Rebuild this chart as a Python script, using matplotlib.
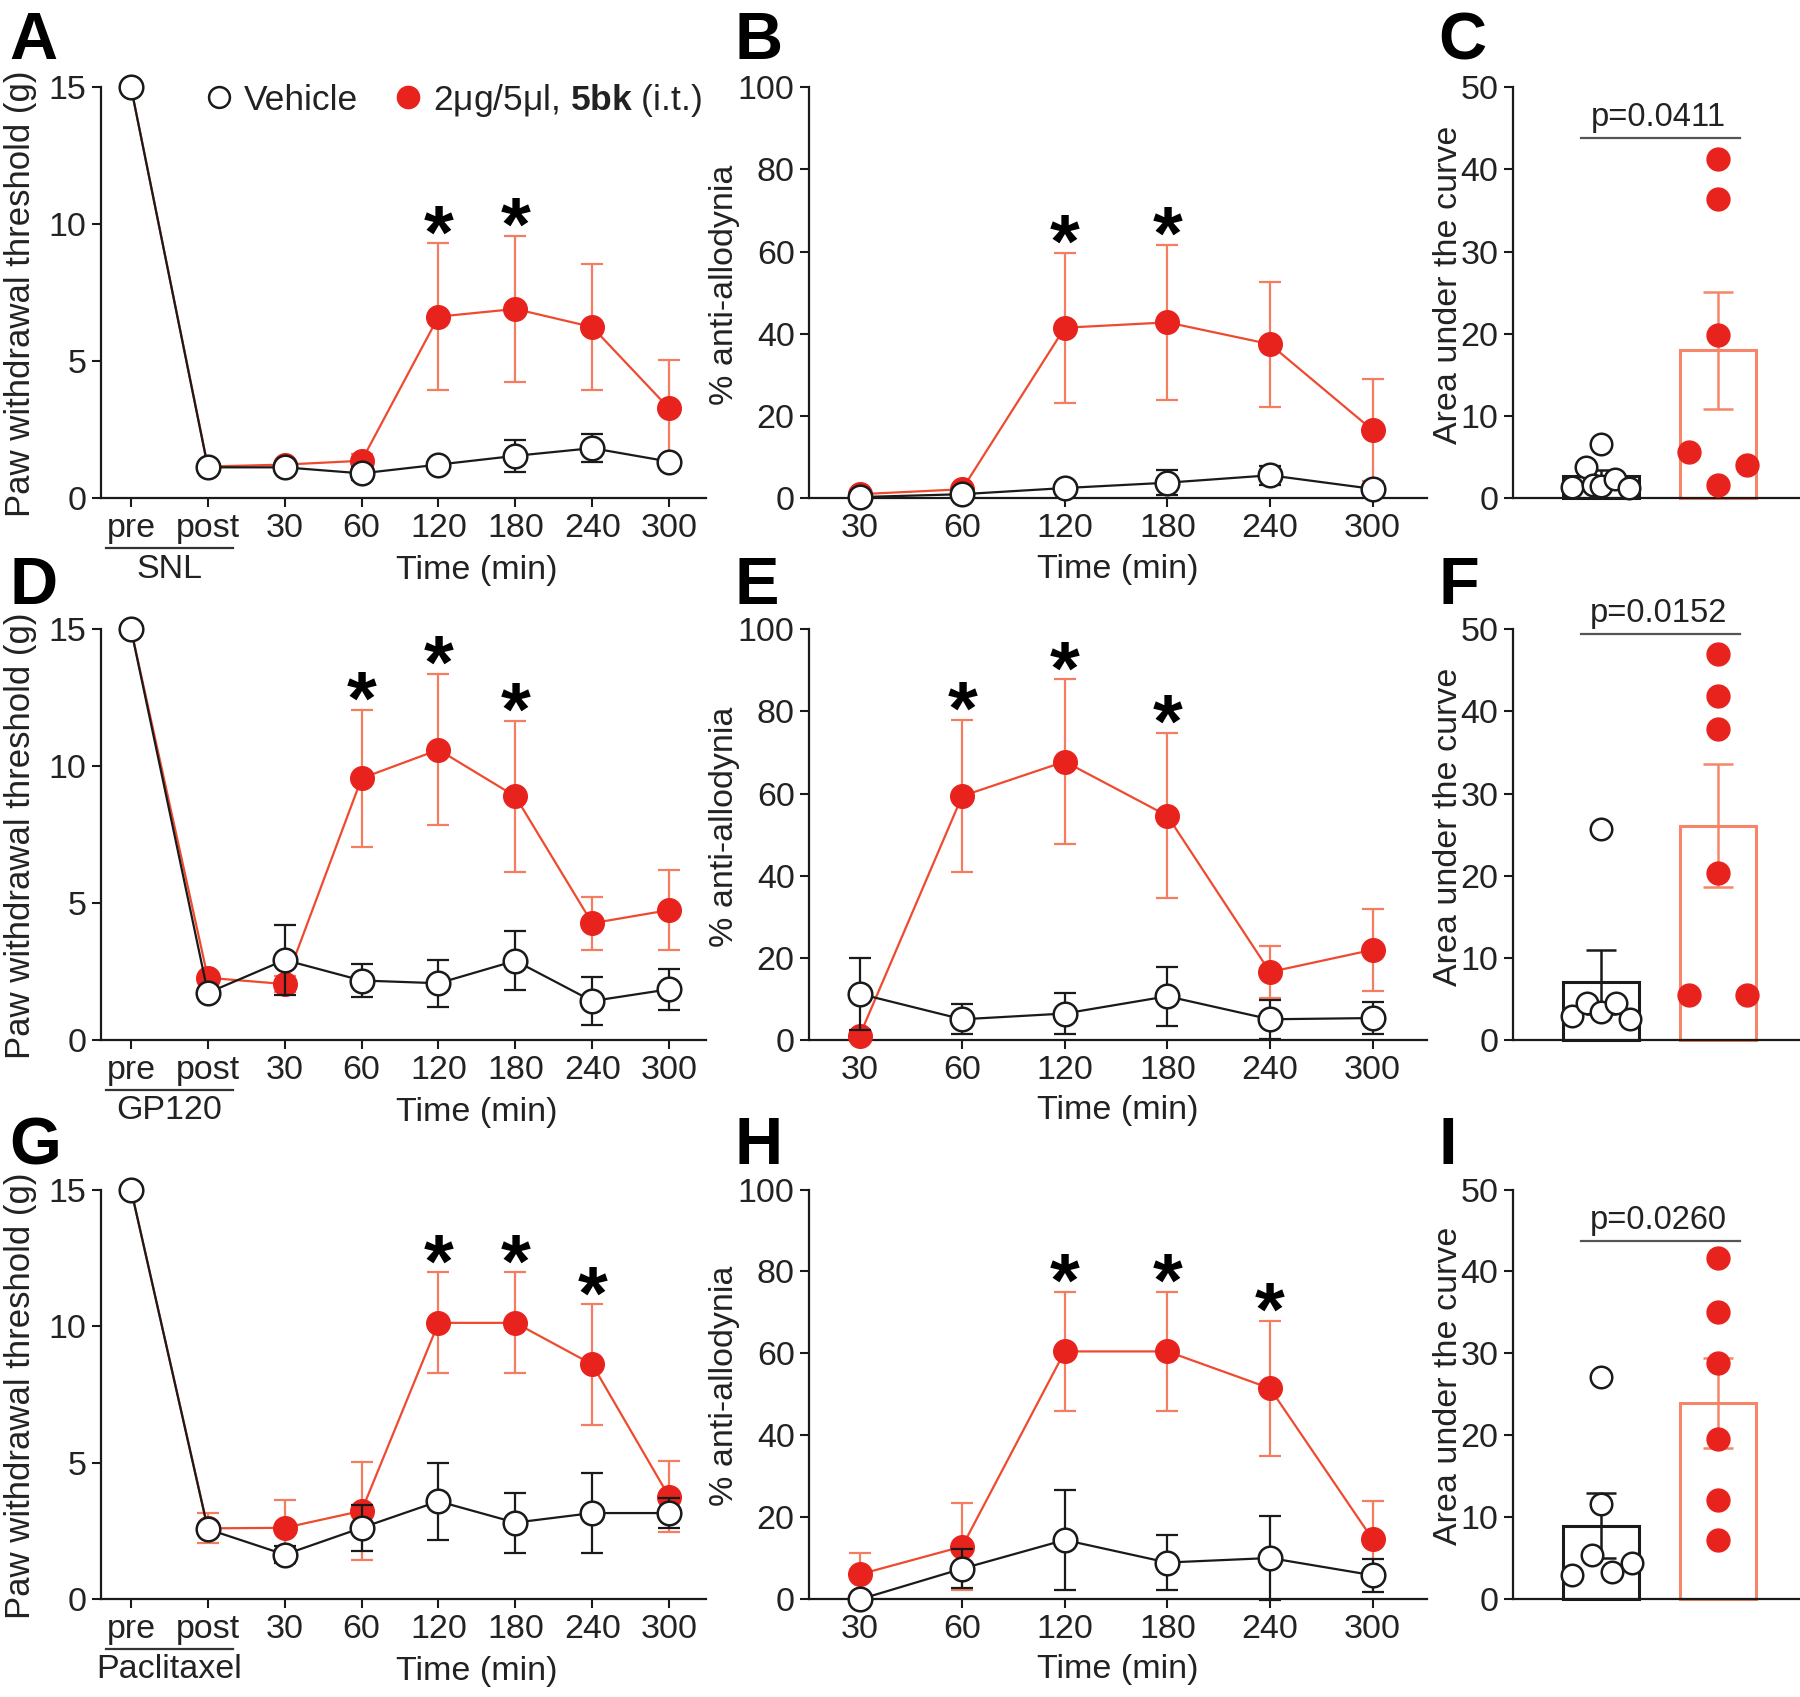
import matplotlib
matplotlib.use('Agg')
import matplotlib.pyplot as plt
from matplotlib.lines import Line2D

plt.rcParams['font.family'] = ['Liberation Sans', 'DejaVu Sans']
plt.rcParams['mathtext.fontset'] = 'custom'
plt.rcParams['mathtext.bf'] = 'Liberation Sans:bold'
plt.rcParams['mathtext.rm'] = 'Liberation Sans'

# ---------------- data ----------------
pwt_labels = ['pre', 'post', '30', '60', '120', '180', '240', '300']
aa_labels = ['30', '60', '120', '180', '240', '300']
models = ['SNL', 'GP120', 'Paclitaxel']

# Paw withdrawal threshold (g): vehicle / 5bk, mean and SEM
snl_veh = [15, 1.13, 1.13, 0.91, 1.23, 1.55, 1.83, 1.34]
snl_veh_err = [0, 0.05, 0.08, 0.25, 0.10, 0.58, 0.50, 0.10]
snl_trt = [15, 1.16, 1.23, 1.37, 6.63, 6.91, 6.25, 3.28]
snl_trt_err = [0, 0.05, 0.08, 0.25, 2.67, 2.68, 2.30, 1.76]
snl_stars = ['120', '180']

gp_veh = [15, 1.73, 2.93, 2.18, 2.08, 2.90, 1.43, 1.86]
gp_veh_err = [0, 0.10, 1.27, 0.60, 0.86, 1.08, 0.88, 0.75]
gp_trt = [15, 2.28, 2.05, 9.56, 10.60, 8.90, 4.27, 4.75]
gp_trt_err = [0, 0.10, 0.30, 2.50, 2.76, 2.75, 0.97, 1.47]
gp_stars = ['60', '120', '180']

pac_veh = [15, 2.57, 1.64, 2.62, 3.59, 2.81, 3.16, 3.16]
pac_veh_err = [0, 0.10, 0.30, 0.85, 1.40, 1.10, 1.45, 0.55]
pac_trt = [15, 2.60, 2.62, 3.24, 10.12, 10.12, 8.60, 3.76]
pac_trt_err = [0, 0.55, 1.00, 1.80, 1.85, 1.85, 2.20, 1.30]
pac_stars = ['120', '180', '240']

# % anti-allodynia
snl_aa_veh = [0.3, 1.0, 2.5, 3.8, 5.6, 2.3]
snl_aa_veh_err = [0.5, 0.8, 1.0, 3.0, 2.3, 0.8]
snl_aa_trt = [1.0, 2.2, 41.5, 42.8, 37.5, 16.6]
snl_aa_trt_err = [0.5, 0.8, 18.2, 18.8, 15.2, 12.5]
snl_aa_stars = ['120', '180']

gp_aa_veh = [11.3, 5.1, 6.5, 10.7, 5.1, 5.4]
gp_aa_veh_err = [8.8, 3.7, 5.0, 7.2, 4.8, 4.0]
gp_aa_trt = [1.1, 59.4, 67.8, 54.6, 16.6, 22.0]
gp_aa_trt_err = [1.0, 18.5, 20.0, 20.1, 6.4, 9.9]
gp_aa_stars = ['60', '120', '180']

pac_aa_veh = [0.0, 7.5, 14.5, 9.0, 10.1, 5.9]
pac_aa_veh_err = [0.0, 4.7, 12.2, 6.8, 10.3, 4.0]
pac_aa_trt = [6.1, 12.9, 60.5, 60.5, 51.5, 14.7]
pac_aa_trt_err = [5.2, 10.5, 14.5, 14.5, 16.4, 9.2]
pac_aa_stars = ['120', '180', '240']

# Area under the curve: individual animals, bar mean and SEM
snl_auc_veh = [6.6, 3.8, 1.4, 1.6, 1.5, 2.3, 1.3]
snl_auc_trt = [41.3, 36.4, 19.9, 5.6, 4.1, 1.65]
snl_auc_mean = [2.7, 18.0]
snl_auc_sem = [0.7, 7.1]
snl_p = 'p=0.0411'

gp_auc_veh = [25.7, 2.9, 4.5, 3.4, 4.5, 2.6]
gp_auc_trt = [47.0, 41.9, 37.9, 20.3, 5.5, 5.5]
gp_auc_mean = [7.1, 26.1]
gp_auc_sem = [3.9, 7.5]
gp_p = 'p=0.0152'

pac_auc_veh = [27.1, 11.6, 5.45, 3.0, 3.4, 4.5]
pac_auc_trt = [41.7, 35.1, 28.8, 19.6, 12.1, 7.3]
pac_auc_mean = [9.0, 24.0]
pac_auc_sem = [4.0, 5.5]
pac_p = 'p=0.0260'

# horizontal jitter of the dots (layout only)
snl_jit_veh = [0, -0.13, -0.25, -0.07, 0.0, 0.12, 0.24]
snl_jit_trt = [0, 0, 0, -0.25, 0.25, 0]
gp_jit_veh = [0, -0.25, -0.12, 0, 0.13, 0.25]
gp_jit_trt = [0, 0, 0, 0, -0.25, 0.25]
pac_jit_veh = [0, 0, -0.08, -0.25, 0.09, 0.26]
pac_jit_trt = [0, 0, 0, 0, 0, 0]

# ---------------- styles ----------------
RED_M = '#E8231E'
RED_L = '#EF4A2F'
RED_E = '#F47C5F'
RED_B = '#F5866A'
BLK = '#1a1a1a'
TXT = '#222222'
TICK_FS = 24.5
LAB_FS = 24.5

fig = plt.figure(figsize=(18, 16.97), dpi=100)

W, H = 1568.0, 1478.0
rows = [(76, 434), (548, 906), (1036, 1393)]
cols = [(88, 615), (705, 1243), (1318, 1568)]


def rect(c, r):
    (x0, x1), (y0, y1) = cols[c], rows[r]
    return [x0 / W, 1 - y1 / H, (x1 - x0) / W, (y1 - y0) / H]


def style(ax):
    for s in ['top', 'right']:
        ax.spines[s].set_visible(False)
    for s in ['left', 'bottom']:
        ax.spines[s].set_linewidth(1.6)
        ax.spines[s].set_color(BLK)
    ax.tick_params(direction='out', length=6.5, width=1.5, colors=BLK,
                   labelsize=TICK_FS, labelcolor=TXT, pad=4)


def stars_at(ax, labels, xs, ys, errs, star_list):
    for lab in star_list:
        i = labels.index(lab)
        ax.annotate('*', xy=(xs[i], ys[i] + errs[i]), xytext=(0, -10),
                    textcoords='offset points', ha='center', va='baseline',
                    fontsize=55, fontweight='bold', color='black',
                    annotation_clip=False)


def line_panel(ax, labels, veh, veh_err, trt, trt_err, star_list, ymax, yticks):
    xs = list(range(len(labels)))
    ax.errorbar(xs, trt, yerr=trt_err, fmt='none', ecolor=RED_E, elinewidth=1.6,
                capsize=8, capthick=1.6, clip_on=False, zorder=2)
    ax.plot(xs, trt, '-', color=RED_L, lw=1.6, clip_on=False, zorder=3)
    ax.plot(xs, trt, 'o', ms=17, mfc=RED_M, mec=RED_M, clip_on=False, zorder=4)
    ax.errorbar(xs, veh, yerr=veh_err, fmt='none', ecolor=BLK, elinewidth=1.6,
                capsize=8, capthick=1.6, clip_on=False, zorder=5)
    ax.plot(xs, veh, '-', color=BLK, lw=1.6, clip_on=False, zorder=6)
    ax.plot(xs, veh, 'o', ms=17, mfc='white', mec=BLK, mew=1.8, clip_on=False, zorder=7)
    ax.set_ylim(0, ymax)
    ax.set_yticks(yticks)
    ax.set_xticks(xs)
    ax.set_xticklabels(labels)
    stars_at(ax, labels, xs, trt, trt_err, star_list)
    style(ax)


def pwt_panel(ax, veh, veh_err, trt, trt_err, star_list, model):
    line_panel(ax, pwt_labels, veh, veh_err, trt, trt_err, star_list, 15, [0, 5, 10, 15])
    ax.set_xlim(-0.39, 7.48)
    ax.set_ylabel('Paw withdrawal threshold (g)', fontsize=25, color=TXT)
    ax.yaxis.label.set_va('center')
    ax.yaxis.set_label_coords(-0.133, 0.497)
    tr = ax.get_xaxis_transform()
    ax.plot([-0.33, 1.33], [-0.12, -0.12], transform=tr, color='#333333', lw=1.6,
            clip_on=False)
    ax.text(0.5, -0.172, model, transform=tr, ha='center', va='center',
            fontsize=LAB_FS, color=TXT)
    ax.text(4.5, -0.175, 'Time (min)', transform=tr, ha='center', va='center',
            fontsize=LAB_FS, color=TXT)


def aa_panel(ax, veh, veh_err, trt, trt_err, star_list):
    line_panel(ax, aa_labels, veh, veh_err, trt, trt_err, star_list, 100,
               [0, 20, 40, 60, 80, 100])
    ax.set_xlim(-0.49, 5.53)
    ax.set_ylabel('% anti-allodynia', fontsize=LAB_FS, color=TXT)
    ax.yaxis.label.set_va('center')
    ax.yaxis.set_label_coords(-0.138, 0.52)
    ax.set_xlabel('Time (min)', fontsize=LAB_FS, color=TXT)
    ax.xaxis.label.set_va('center')
    ax.xaxis.set_label_coords(0.5, -0.172)


def auc_panel(ax, veh, trt, jv, jt, means, sems, ptxt, pline):
    ax.bar([0, 1], means, width=0.65, fill=False, edgecolor=[BLK, RED_B],
           linewidth=2.2, zorder=2, clip_on=False)
    ax.errorbar([0], [means[0]], yerr=[sems[0]], fmt='none', ecolor=BLK,
                elinewidth=1.8, capsize=11, capthick=1.8, zorder=3)
    ax.errorbar([1], [means[1]], yerr=[sems[1]], fmt='none', ecolor=RED_B,
                elinewidth=1.8, capsize=11, capthick=1.8, zorder=3)
    ax.plot([j for j in jv], veh, 'o', ms=15.5, mfc='white', mec=BLK, mew=1.8,
            ls='none', zorder=4, clip_on=False)
    ax.plot([1 + j for j in jt], trt, 'o', ms=16.5, mfc=RED_M, mec=RED_M,
            ls='none', zorder=4, clip_on=False)
    ax.plot([-0.17, 1.19], [pline, pline], color='#555555', lw=1.6, clip_on=False)
    ax.text(0.49, pline + 0.6, ptxt, ha='center', va='bottom', fontsize=23.5, color=TXT)
    ax.set_xlim(-0.755, 1.70)
    ax.set_ylim(0, 50)
    ax.set_yticks([0, 10, 20, 30, 40, 50])
    ax.set_xticks([])
    ax.set_ylabel('Area under the curve', fontsize=LAB_FS, color=TXT)
    ax.yaxis.label.set_va('center')
    ax.yaxis.set_label_coords(-0.225, 0.52)
    style(ax)
    ax.tick_params(axis='x', length=0)


axA = fig.add_axes(rect(0, 0))
pwt_panel(axA, snl_veh, snl_veh_err, snl_trt, snl_trt_err, snl_stars, models[0])
handles = [Line2D([], [], marker='o', ls='none', ms=15, mfc='white', mec=BLK, mew=1.8),
           Line2D([], [], marker='o', ls='none', ms=16, mfc=RED_M, mec=RED_M)]
axA.legend(handles, ['Vehicle', r'2μg/5μl, $\mathbf{5bk}$ (i.t.)'], ncol=2,
           frameon=False, fontsize=25.5, loc='center right',
           bbox_to_anchor=(1.016, 0.969), borderaxespad=0, handletextpad=0.2,
           columnspacing=0.9, handlelength=1.0, labelcolor=TXT)

axB = fig.add_axes(rect(1, 0))
aa_panel(axB, snl_aa_veh, snl_aa_veh_err, snl_aa_trt, snl_aa_trt_err, snl_aa_stars)
axC = fig.add_axes(rect(2, 0))
auc_panel(axC, snl_auc_veh, snl_auc_trt, snl_jit_veh, snl_jit_trt,
          snl_auc_mean, snl_auc_sem, snl_p, 43.8)

axD = fig.add_axes(rect(0, 1))
pwt_panel(axD, gp_veh, gp_veh_err, gp_trt, gp_trt_err, gp_stars, models[1])
axE = fig.add_axes(rect(1, 1))
aa_panel(axE, gp_aa_veh, gp_aa_veh_err, gp_aa_trt, gp_aa_trt_err, gp_aa_stars)
axF = fig.add_axes(rect(2, 1))
auc_panel(axF, gp_auc_veh, gp_auc_trt, gp_jit_veh, gp_jit_trt,
          gp_auc_mean, gp_auc_sem, gp_p, 49.4)

axG = fig.add_axes(rect(0, 2))
pwt_panel(axG, pac_veh, pac_veh_err, pac_trt, pac_trt_err, pac_stars, models[2])
axH = fig.add_axes(rect(1, 2))
aa_panel(axH, pac_aa_veh, pac_aa_veh_err, pac_aa_trt, pac_aa_trt_err, pac_aa_stars)
axI = fig.add_axes(rect(2, 2))
auc_panel(axI, pac_auc_veh, pac_auc_trt, pac_jit_veh, pac_jit_trt,
          pac_auc_mean, pac_auc_sem, pac_p, 43.7)

# panel letters
letters = ['A', 'B', 'C', 'D', 'E', 'F', 'G', 'H', 'I']
letter_x = [8, 640, 1253]
letter_y = [10, 484, 972]
for k, let in enumerate(letters):
    r, c = divmod(k, 3)
    fig.text(letter_x[c] / W, 1 - letter_y[r] / H, let, ha='left', va='top',
             fontsize=48, fontweight='bold', color='black')

fig.savefig('out.png', dpi=100)
